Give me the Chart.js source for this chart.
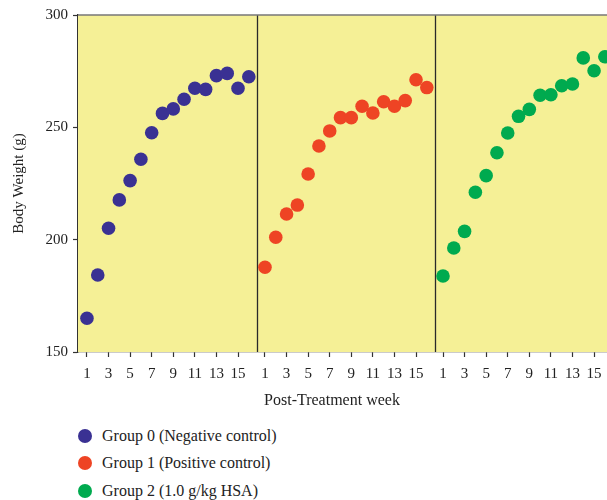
<!DOCTYPE html>
<html>
<head>
<meta charset="utf-8">
<script src="https://cdn.jsdelivr.net/npm/chart.js@4/dist/chart.umd.min.js"></script>
<style>
  html, body { margin: 0; padding: 0; background: #ffffff; overflow: hidden; }
  #wrap { position: relative; width: 607px; height: 500px; }
  #legend { position: absolute; left: 78px; top: 422px; font-family: "Liberation Serif", "DejaVu Serif", serif; font-size: 16px; color: #222; }
  .item { display: flex; align-items: center; height: 27.5px; }
  .dot { width: 14px; height: 14px; border-radius: 50%; margin-right: 10px; }
  #xtitle { position: absolute; left: 232px; width: 200px; top: 390px; text-align: center; font-family: "Liberation Serif", "DejaVu Serif", serif; font-size: 16px; color: #222; line-height: 20px; }
</style>
</head>
<body>
<div id="wrap">
  <canvas id="c" width="607" height="414"></canvas>
  <div id="xtitle"></div>
  <div id="legend"></div>
</div>
<script>
// ---- data ----
const weeks = [1,2,3,4,5,6,7,8,9,10,11,12,13,14,15,16];
const tickWeeks = [1,3,5,7,9,11,13,15];
const seriesNames = ["Group 0 (Negative control)", "Group 1 (Positive control)", "Group 2 (1.0 g/kg HSA)"];
const seriesColors = ["#3a3193", "#ee4424", "#00aa4f"];
const group0 = [165.0, 184.3, 205.1, 217.7, 226.3, 235.8, 247.6, 256.2, 258.2, 262.5, 267.4, 266.9, 273.0, 274.0, 267.4, 272.5];
const group1 = [187.7, 201.1, 211.4, 215.4, 229.2, 241.7, 248.4, 254.3, 254.3, 259.4, 256.4, 261.4, 259.4, 261.9, 271.2, 267.7];
const group2 = [183.8, 196.3, 203.7, 221.1, 228.5, 238.7, 247.5, 254.9, 258.0, 264.3, 264.5, 268.5, 269.3, 280.9, 275.2, 281.4];
const yTicks = [150, 200, 250, 300];
const xTitle = "Post-Treatment week";
const yTitle = "Body Weight (g)";

// each group occupies its own panel along one shared x scale
const panelGap = 16.5;
const groups = [group0, group1, group2];
const datasets = groups.map((vals, i) => ({
  label: seriesNames[i],
  data: weeks.map((w, j) => ({ x: i * panelGap + w, y: vals[j] })),
  backgroundColor: seriesColors[i],
  borderColor: seriesColors[i],
  pointRadius: 6.8,
  pointHoverRadius: 6.8,
  borderWidth: 0,
  showLine: false
}));
const tickPositions = [];
const tickTexts = [];
groups.forEach((g, i) => tickWeeks.forEach(w => { tickPositions.push(i * panelGap + w); tickTexts.push(String(w)); }));
const dividers = [1, 2].map(i => (i * panelGap + 1 + weeks[weeks.length - 1] + (i - 1) * panelGap) / 2);

const FONT = "'Liberation Serif', 'DejaVu Serif', serif";

const panelPlugin = {
  id: 'panels',
  beforeDatasetsDraw(chart) {
    const { ctx, chartArea: a, scales } = chart;
    ctx.save();
    ctx.fillStyle = '#f5f096';
    ctx.fillRect(a.left, a.top, a.right - a.left, a.bottom - a.top);
    ctx.strokeStyle = '#2a2a2a';
    ctx.lineWidth = 1.3;
    dividers.forEach(d => {
      const x = Math.round(scales.x.getPixelForValue(d)) + 0.5;
      ctx.beginPath(); ctx.moveTo(x, a.top); ctx.lineTo(x, a.bottom); ctx.stroke();
    });
    ctx.strokeStyle = '#777';
    ctx.lineWidth = 1.5;
    ctx.beginPath(); ctx.moveTo(a.left, a.top); ctx.lineTo(a.right, a.top); ctx.stroke();
    ctx.restore();
  }
};

new Chart(document.getElementById('c'), {
  type: 'scatter',
  data: { datasets },
  options: {
    responsive: false,
    animation: false,
    layout: { autoPadding: false, padding: { top: 15, right: 0, bottom: 0, left: 0 } },
    plugins: { legend: { display: false }, tooltip: { enabled: false } },
    scales: {
      x: {
        type: 'linear',
        min: 0.17,
        max: 49.2,
        afterBuildTicks(s) { s.ticks = tickPositions.map(v => ({ value: v })); },
        afterFit(s) { s.height = 62; s.paddingLeft = 0; s.paddingRight = 0; },
        grid: { drawOnChartArea: false, drawTicks: true, tickLength: 5, color: '#333', tickWidth: 1.2 },
        border: { display: true, color: '#333', width: 1.3 },
        ticks: {
          autoSkip: false, maxRotation: 0, padding: 8,
          font: { family: FONT, size: 15 }, color: '#222',
          callback(v, idx) { return tickTexts[idx]; }
        },
        title: { display: false }
      },
      y: {
        min: 150, max: 300,
        afterBuildTicks(s) { s.ticks = yTicks.map(v => ({ value: v })); },
        afterFit(s) { s.width = 78; },
        grid: { drawOnChartArea: false, drawTicks: true, tickLength: 5, color: '#333', tickWidth: 1.2 },
        border: { display: true, color: '#333', width: 1.3 },
        ticks: { padding: 5, font: { family: FONT, size: 15 }, color: '#222' },
        title: { display: true, text: yTitle, font: { family: FONT, size: 15 }, color: '#222', padding: { top: 10, bottom: 0 } }
      }
    }
  },
  plugins: [panelPlugin]
});

document.getElementById('xtitle').textContent = xTitle;
const lg = document.getElementById('legend');
seriesNames.forEach((n, i) => {
  const d = document.createElement('div'); d.className = 'item';
  const dot = document.createElement('span'); dot.className = 'dot'; dot.style.background = seriesColors[i];
  const t = document.createElement('span'); t.textContent = n;
  d.appendChild(dot); d.appendChild(t); lg.appendChild(d);
});
</script>
</body>
</html>
